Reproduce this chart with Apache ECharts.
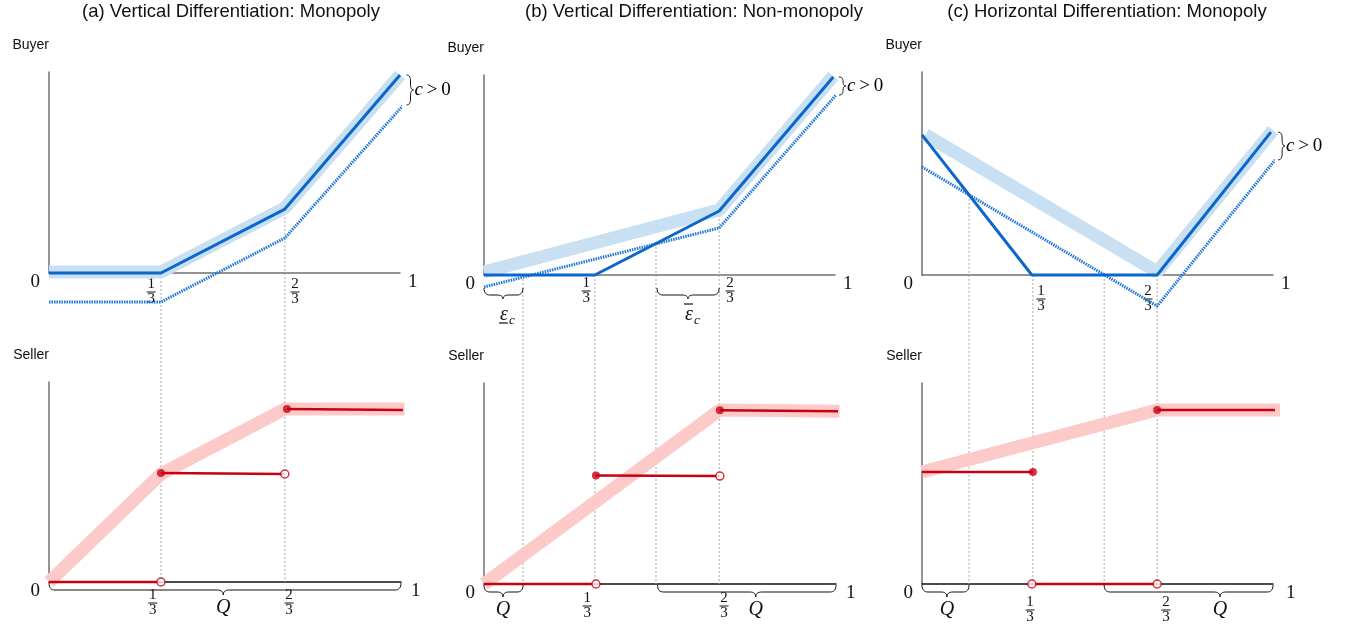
<!DOCTYPE html>
<html>
<head>
    <meta http-equiv=Content-Type content="text/html; charset=utf-8">
    <title>Buyer / Seller</title>
    <script type="text/javascript" src="https://cdn.jsdelivr.net/npm/echarts@6.0.0/dist/echarts.min.js"></script>
    <style>
        html, body {margin: 0; padding: 0; background: #fff;}
        #chartmain {width: 1347px; height: 629px;}
    </style>
</head>
<body>
<div id="chartmain"></div>

<script type="text/javascript">
    // 坐标都按 0..1 归一化（x 轴 0..1，y 轴 0..轴顶）
    var panelTitles = ['(a) Vertical Differentiation: Monopoly', '(b) Vertical Differentiation: Non-monopoly', '(c) Horizontal Differentiation: Monopoly'];
    var fracText = ['1/3', '2/3'];

    // (a)
    var aBuyerBand = [[0, 0.005], [0.319, 0.005], [0.672, 0.323], [1.0, 0.985]];
    var aBuyerSolid = [[0, 0], [0.319, 0], [0.672, 0.318], [1.0, 0.985]];
    var aBuyerDotted = [[0, -0.144], [0.319, -0.144], [0.672, 0.174], [1.01, 0.836]];
    var aSellerBand = [[0, 0], [0.318, 0.54], [0.67, 0.865], [1.01, 0.865]];
    var aSellerSteps = [[[0, 0], [0.318, 0]], [[0.318, 0.545], [0.67, 0.54]], [[0.676, 0.865], [1.01, 0.86]]];
    var aSellerFilled = [[0.318, 0.545], [0.676, 0.865]];
    var aSellerOpen = [[0.318, 0], [0.67, 0.54]];
    var aGuides = [[0.319, 0], [0.672, 0.318]];
    var aBuyerFracX = [0.291, 0.701];
    var aSellerFracX = [0.295, 0.682];
    var aBuyerBraces = [];
    var aSellerBraces = [[0, 1.0, 0.495]];

    // (b)
    var bBuyerBand = [[0, 0.015], [0.67, 0.325], [0.995, 0.995]];
    var bBuyerSolid = [[0, 0], [0.316, 0], [0.67, 0.32], [0.995, 0.99]];
    var bBuyerDotted = [[0, -0.06], [0.67, 0.235], [1.003, 0.9]];
    var bSellerBand = [[0, 0], [0.67, 0.866], [1.01, 0.86]];
    var bSellerSteps = [[[0, 0], [0.318, 0]], [[0.318, 0.54], [0.67, 0.537]], [[0.67, 0.865], [1.01, 0.86]]];
    var bSellerFilled = [[0.318, 0.54], [0.67, 0.865]];
    var bSellerOpen = [[0.318, 0], [0.67, 0.537]];
    var bGuides = [[0.111, 0], [0.316, 0], [0.49, 0.16], [0.67, 0.32]];
    var bBuyerFracX = [0.291, 0.701];
    var bSellerFracX = [0.293, 0.682];
    var bBuyerBraces = [[0, 0.111, 0.054], [0.493, 0.67, 0.581]];
    var bBuyerBraceBar = ['under', 'over'];
    var bSellerBraces = [[0, 0.111, 0.054], [0.493, 1.0, 0.772]];

    // (c)
    var cBuyerBand = [[0.01, 0.69], [0.67, 0.015], [1.0, 0.714]];
    var cBuyerSolid = [[0, 0.69], [0.313, 0], [0.67, 0], [0.994, 0.704]];
    var cBuyerDotted = [[0, 0.532], [0.67, -0.153], [1.006, 0.567]];
    var cSellerBand = [[0, 0.557], [0.67, 0.866], [1.02, 0.866]];
    var cSellerSteps = [[[0, 0.557], [0.316, 0.557]], [[0.313, 0], [0.67, 0]], [[0.67, 0.866], [1.02, 0.866]]];
    var cSellerFilled = [[0.316, 0.557], [0.67, 0.866]];
    var cSellerOpen = [[0.313, 0], [0.67, 0]];
    var cGuides = [[0.134, 0.395], [0.316, 0], [0.519, 0], [0.67, 0]];
    var cBuyerFracX = [0.339, 0.644];
    var cSellerFracX = [0.308, 0.695];
    var cBuyerBraces = [];
    var cSellerBraces = [[0, 0.134, 0.071], [0.519, 1.0, 0.849]];

    var panels = [
        {band: aBuyerBand, solid: aBuyerSolid, dotted: aBuyerDotted, sBand: aSellerBand, steps: aSellerSteps, filled: aSellerFilled, open: aSellerOpen,
            guides: aGuides, bFrac: aBuyerFracX, sFrac: aSellerFracX, bBraces: aBuyerBraces, bBraceBar: [], sBraces: aSellerBraces},
        {band: bBuyerBand, solid: bBuyerSolid, dotted: bBuyerDotted, sBand: bSellerBand, steps: bSellerSteps, filled: bSellerFilled, open: bSellerOpen,
            guides: bGuides, bFrac: bBuyerFracX, sFrac: bSellerFracX, bBraces: bBuyerBraces, bBraceBar: bBuyerBraceBar, sBraces: bSellerBraces},
        {band: cBuyerBand, solid: cBuyerSolid, dotted: cBuyerDotted, sBand: cSellerBand, steps: cSellerSteps, filled: cSellerFilled, open: cSellerOpen,
            guides: cGuides, bFrac: cBuyerFracX, sFrac: cSellerFracX, bBraces: cBuyerBraces, bBraceBar: [], sBraces: cSellerBraces}
    ];

    // 版面位置
    var boxes = [
        {left: 49, bTop: 72, bH: 201, bW: 351, sTop: 382, sH: 200, sW: 352, titleX: 231, bMargin: 6, sMargin: 8, sGap: 10},
        {left: 484, bTop: 75, bH: 200, bW: 351, sTop: 383, sH: 201, sW: 352, titleX: 694, bMargin: 3, sMargin: 9, sGap: 10},
        {left: 922, bTop: 72, bH: 203, bW: 351, sTop: 383, sH: 201, sW: 351, titleX: 1107, bMargin: 11, sMargin: 13, sGap: 13}
    ];

    var SERIF = '"Liberation Serif", "DejaVu Serif", serif';
    var SANS = '"Liberation Sans", Arial, sans-serif';
    var BLUE = '#0b67cb', BLUE_DOT = '#1f76dc', BLUE_BAND = '#c8e0f2';
    var RED = '#c90010', RED_BAND = '#fdcaca';
    var INK = '#111';

    var fracRich = {
        n: {fontFamily: SERIF, fontSize: 15, lineHeight: 11, color: INK, align: 'center'},
        bar: {width: 9, height: 1, lineHeight: 4, fontSize: 1, backgroundColor: INK, align: 'center'}
    };

    function fracFormatter(xs) {
        return function (v) {
            var k = 0, best = 9;
            for (var i = 0; i < xs.length; i++) {
                if (Math.abs(xs[i] - v) < best) { best = Math.abs(xs[i] - v); k = i; }
            }
            var p = fracText[k].split('/');
            return '{n|' + p[0] + '}\n{bar| }\n{n|' + p[1] + '}';
        };
    }

    function makeAxes(gi, fracX, margin, xColor, yName, nameGap1) {
        var x = {
            gridIndex: gi, type: 'value', min: 0, max: 1,
            axisLine: {show: true, onZero: false, lineStyle: {color: xColor, width: 1.5}},
            axisTick: {show: false}, splitLine: {show: false},
            axisLabel: {customValues: fracX, formatter: fracFormatter(fracX), rich: fracRich, margin: margin, hideOverlap: false},
            name: '1', nameLocation: 'end', nameGap: nameGap1,
            nameTextStyle: {fontFamily: SERIF, fontSize: 19, color: INK, verticalAlign: 'top', lineHeight: 18}
        };
        var y = {
            gridIndex: gi, type: 'value', min: 0, max: 1,
            axisLine: {show: true, lineStyle: {color: '#707070', width: 1.5}},
            axisTick: {show: false}, splitLine: {show: false},
            axisLabel: {customValues: [0], formatter: function () { return '0'; }, fontFamily: SERIF, fontSize: 19, color: INK,
                margin: 9, verticalAlign: 'top', lineHeight: 18},
            name: yName, nameLocation: 'end', nameGap: 20,
            nameTextStyle: {fontFamily: SANS, fontSize: 14, color: INK, align: 'right'}
        };
        return [x, y];
    }

    var grids = [], xAxes = [], yAxes = [], series = [], titles = [];
    panels.forEach(function (p, i) {
        var b = boxes[i];
        var gb = 2 * i, gs = 2 * i + 1;
        grids.push({left: b.left, top: b.bTop, width: b.bW, height: b.bH});
        grids.push({left: b.left, top: b.sTop, width: b.sW, height: b.sH});
        var ab = makeAxes(gb, p.bFrac, b.bMargin, '#707070', 'Buyer', 8);
        var as = makeAxes(gs, p.sFrac, b.sMargin, INK, 'Seller', b.sGap);
        xAxes.push(ab[0], as[0]);
        yAxes.push(ab[1], as[1]);
        titles.push({text: panelTitles[i], left: b.titleX, top: 2, padding: 0, textAlign: 'center',
            textStyle: {fontFamily: SANS, fontSize: 18.5, fontWeight: 'normal', color: INK}});

        function line(gi, data, width, color, type, z) {
            series.push({type: 'line', xAxisIndex: gi, yAxisIndex: gi, data: data, symbol: 'none', clip: false, silent: true, z: z,
                lineStyle: {width: width, color: color, type: type || 'solid'}});
        }
        line(gb, p.band, 13, BLUE_BAND, null, 2);
        line(gb, p.dotted, 3, BLUE_DOT, [1.5, 1], 3);
        line(gb, p.solid, 3, BLUE, null, 4);
        line(gs, p.sBand, 13, RED_BAND, null, 2);
        p.steps.forEach(function (seg) { line(gs, seg, 2.5, RED, null, 4); });
        series.push({type: 'scatter', xAxisIndex: gs, yAxisIndex: gs, data: p.filled, symbol: 'circle', symbolSize: 8, clip: false, silent: true, z: 5,
            itemStyle: {color: RED}});
        series.push({type: 'scatter', xAxisIndex: gs, yAxisIndex: gs, data: p.open, symbol: 'circle', symbolSize: 8, clip: false, silent: true, z: 5,
            itemStyle: {color: '#fff', borderColor: RED, borderWidth: 1.5}});
    });

    var myChart = echarts.init(document.getElementById('chartmain'));
    myChart.setOption({
        animation: false,
        backgroundColor: '#fff',
        title: titles,
        grid: grids,
        xAxis: xAxes,
        yAxis: yAxes,
        series: series
    });

    // 花括号（用折线近似二次曲线）
    function quad(pts, p0, c, p1) {
        for (var t = 1; t <= 8; t++) {
            var s = t / 8;
            pts.push([(1 - s) * (1 - s) * p0[0] + 2 * (1 - s) * s * c[0] + s * s * p1[0],
                (1 - s) * (1 - s) * p0[1] + 2 * (1 - s) * s * c[1] + s * s * p1[1]]);
        }
    }
    function hBrace(x1, x2, xt, y, h1, h) {
        var q = Math.min(6, (xt - x1) / 2, (x2 - xt) / 2);
        var pts = [[x1, y]];
        quad(pts, [x1, y], [x1, y + h1], [x1 + q, y + h1]);
        pts.push([xt - q, y + h1]);
        quad(pts, [xt - q, y + h1], [xt, y + h1], [xt, y + h]);
        quad(pts, [xt, y + h], [xt, y + h1], [xt + q, y + h1]);
        pts.push([x2 - q, y + h1]);
        quad(pts, [x2 - q, y + h1], [x2, y + h1], [x2, y]);
        return pts;
    }
    function vBrace(x, y1, y2, h1, h) {
        var yt = (y1 + y2) / 2;
        var q = Math.min(6, (y2 - y1) / 4);
        var pts = [[x, y1]];
        quad(pts, [x, y1], [x + h1, y1], [x + h1, y1 + q]);
        pts.push([x + h1, yt - q]);
        quad(pts, [x + h1, yt - q], [x + h1, yt], [x + h, yt]);
        quad(pts, [x + h, yt], [x + h1, yt], [x + h1, yt + q]);
        pts.push([x + h1, y2 - q]);
        quad(pts, [x + h1, y2 - q], [x + h1, y2], [x, y2]);
        return pts;
    }

    var graphics = [];
    var braceStyle = {stroke: INK, fill: null, lineWidth: 1};
    function serifText(x, y, text, size, italic, align) {
        return {type: 'text', z: 10, silent: true, x: x, y: y,
            style: {text: text, align: align || 'center', verticalAlign: 'middle', fontFamily: SERIF,
                fontStyle: italic ? 'italic' : 'normal', fontSize: size, fill: INK}};
    }
    panels.forEach(function (p, i) {
        var gb = 2 * i, gs = 2 * i + 1;
        // 竖向虚线
        p.guides.forEach(function (g) {
            var top = myChart.convertToPixel({gridIndex: gb}, [g[0], g[1]]);
            var bot = myChart.convertToPixel({gridIndex: gs}, [g[0], 0]);
            graphics.push({type: 'line', z: 1, silent: true,
                shape: {x1: top[0], y1: top[1], x2: top[0], y2: bot[1]},
                style: {stroke: '#a8a8a8', lineWidth: 1, lineDash: [2, 2]}});
        });
        // c > 0
        var sEnd = myChart.convertToPixel({gridIndex: gb}, p.solid[p.solid.length - 1]);
        var dEnd = myChart.convertToPixel({gridIndex: gb}, p.dotted[p.dotted.length - 1]);
        var bx = Math.max(sEnd[0], dEnd[0]) + 3;
        graphics.push({type: 'polyline', z: 10, silent: true, shape: {points: vBrace(bx, sEnd[1], dEnd[1], 4, 7)}, style: braceStyle});
        graphics.push({type: 'text', z: 10, silent: true, x: bx + 8, y: (sEnd[1] + dEnd[1]) / 2,
            style: {text: '{i|c}{n|\u2009>\u20090}', verticalAlign: 'middle', align: 'left',
                rich: {i: {fontFamily: SERIF, fontStyle: 'italic', fontSize: 19, color: INK}, n: {fontFamily: SERIF, fontSize: 19, color: INK}}}});
        // 买方 ε 括号
        p.bBraces.forEach(function (br, k) {
            var a0 = myChart.convertToPixel({gridIndex: gb}, [br[0], 0]);
            var a1 = myChart.convertToPixel({gridIndex: gb}, [br[1], 0]);
            var at = myChart.convertToPixel({gridIndex: gb}, [br[2], 0]);
            var ay = a0[1];
            graphics.push({type: 'polyline', z: 10, silent: true, shape: {points: hBrace(a0[0], a1[0], at[0], ay + 13, 7, 11)}, style: braceStyle});
            graphics.push(serifText(at[0] + 1, ay + 40, 'ε', 20, true));
            graphics.push(serifText(at[0] + 6, ay + 46, 'c', 13, true, 'left'));
            var by = p.bBraceBar[k] === 'under' ? ay + 48 : ay + 29;
            graphics.push({type: 'line', z: 10, silent: true, shape: {x1: at[0] - 4, y1: by, x2: at[0] + 5, y2: by}, style: {stroke: INK, lineWidth: 1.2}});
        });
        // 卖方 Q 括号
        p.sBraces.forEach(function (br) {
            var a0 = myChart.convertToPixel({gridIndex: gs}, [br[0], 0]);
            var a1 = myChart.convertToPixel({gridIndex: gs}, [br[1], 0]);
            var at = myChart.convertToPixel({gridIndex: gs}, [br[2], 0]);
            graphics.push({type: 'polyline', z: 10, silent: true, shape: {points: hBrace(a0[0], a1[0], at[0], a0[1] + 1, 7, 12)}, style: braceStyle});
            graphics.push(serifText(at[0], a0[1] + 26, 'Q', 20, true));
        });
    });
    myChart.setOption({graphic: graphics});
</script>
</body>
</html>
